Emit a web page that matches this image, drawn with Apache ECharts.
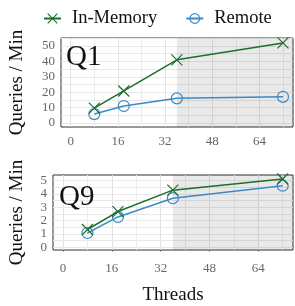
<!DOCTYPE html>
<html>
<head>
<meta charset="utf-8">
<script src="https://cdn.jsdelivr.net/npm/echarts@6/dist/echarts.min.js"></script>
<style>
  html, body { margin: 0; padding: 0; background: #fff; }
  #chart { width: 295px; height: 306px; }
</style>
</head>
<body>
<div id="chart"></div>
<script>
// threads on the x axis
const threads = [8, 18, 36, 72];
// Q1 queries per minute
const q1InMemory = [9.7, 20.8, 41, 52];
const q1Remote = [5.8, 11, 16, 17];
// Q9 queries per minute
const q9InMemory = [1.33, 2.67, 4.27, 5.1];
const q9Remote = [1.07, 2.27, 3.67, 4.6];

const xTicks = [0, 16, 32, 48, 64];
const xGrid = [0, 8, 16, 24, 32, 40, 48, 56, 64, 72];
const q1Ticks = [0, 10, 20, 30, 40, 50];
const q1Grid = [0, 5, 10, 15, 20, 25, 30, 35, 40, 45, 50, 55];
const q9Ticks = [0, 1, 2, 3, 4, 5];
const q9Grid = [0, 0.5, 1, 1.5, 2, 2.5, 3, 3.5, 4, 4.5, 5];
const shadeFrom = 36;

const green = '#1c6e2e';
const blue = '#3a8ac6';
const font = 'Liberation Serif';
const xMark = 'path://M0,0L10,10M10,0L0,10';

const chart = echarts.init(document.getElementById('chart'));

function xAxisFor(gi, name, margin) {
  return {
    gridIndex: gi, type: 'value', min: -3.3, max: 75.4,
    name: name, nameLocation: 'middle', nameGap: 36,
    nameTextStyle: { fontFamily: font, fontSize: 19, color: '#111' },
    axisLine: { show: true, lineStyle: { color: '#333' } },
    axisTick: { show: true, customValues: xTicks, length: 4, lineStyle: { color: '#333' } },
    axisLabel: { customValues: xTicks, fontFamily: font, fontSize: 13, color: '#666', margin: margin },
    splitLine: { show: false }
  };
}
function yAxisFor(gi, min, max, ticks, gap) {
  return {
    gridIndex: gi, type: 'value', min: min, max: max,
    name: 'Queries / Min', nameLocation: 'middle', nameGap: gap,
    nameTextStyle: { fontFamily: font, fontSize: 19, color: '#111' },
    axisLine: { show: true, lineStyle: { color: '#333' } },
    axisTick: { show: true, customValues: ticks, length: 4, lineStyle: { color: '#333' } },
    axisLabel: { customValues: ticks, fontFamily: font, fontSize: 13, color: '#666', margin: 6 },
    splitLine: { show: false }
  };
}
function gridLines(gi, yGrid) {
  const lines = [];
  xGrid.forEach(v => lines.push({ xAxis: v, lineStyle: { color: v % 16 === 0 ? '#e2e2e2' : '#ececec' } }));
  yGrid.forEach(v => lines.push({ yAxis: v, lineStyle: { color: '#e8e8e8' } }));
  return {
    type: 'line', xAxisIndex: gi, yAxisIndex: gi, data: [], silent: true, z: 1,
    markLine: { silent: true, z: 1, symbol: 'none', label: { show: false }, animation: false,
      lineStyle: { type: 'solid', width: 1 }, data: lines }
  };
}
function shade(gi) {
  return {
    type: 'line', xAxisIndex: gi, yAxisIndex: gi, data: [], silent: true, z: 2,
    markArea: { silent: true, z: 2, animation: false, itemStyle: { color: 'rgba(0,0,0,0.085)' },
      data: [[{ xAxis: shadeFrom }, { xAxis: 75.4 }]] }
  };
}
function pairs(ys) { return threads.map((t, i) => [t, ys[i]]); }
function inMem(gi, ys) {
  return {
    name: 'In-Memory', type: 'line', xAxisIndex: gi, yAxisIndex: gi, z: 6,
    data: pairs(ys), symbol: xMark, symbolSize: 11,
    lineStyle: { color: green, width: 1.5 },
    itemStyle: { color: green, borderColor: green, borderWidth: 1.2 }
  };
}
function remote(gi, ys) {
  return {
    name: 'Remote', type: 'line', xAxisIndex: gi, yAxisIndex: gi, z: 5,
    data: pairs(ys), symbol: 'circle', symbolSize: 11,
    lineStyle: { color: blue, width: 1.5 },
    itemStyle: { color: 'rgba(0,0,0,0)', borderColor: blue, borderWidth: 1.2 }
  };
}

chart.setOption({
  animation: false,
  backgroundColor: '#fff',
  legend: {
    top: 4, left: 38, itemGap: 28, itemWidth: 17, itemHeight: 12,
    textStyle: { fontFamily: font, fontSize: 18.5, color: '#111', padding: [0, 0, 0, 6] },
    data: [
      { name: 'In-Memory', itemStyle: { color: green, borderColor: green, borderWidth: 1.2 } },
      { name: 'Remote', itemStyle: { color: 'rgba(0,0,0,0)', borderColor: blue, borderWidth: 1.2 } }
    ]
  },
  grid: [
    { left: 59, top: 38, width: 234, height: 89, show: true, borderColor: '#333', borderWidth: 1, backgroundColor: '#fff' },
    { left: 51, top: 175, width: 242, height: 84, show: true, borderColor: '#333', borderWidth: 1, backgroundColor: '#fff' }
  ],
  xAxis: [xAxisFor(0, '', 8), xAxisFor(1, 'Threads', 12)],
  yAxis: [yAxisFor(0, -2.6, 55.2, q1Ticks, 34), yAxisFor(1, -0.2, 5.4, q9Ticks, 26)],
  graphic: [
    { type: 'text', z: 100, left: 66, top: 43, style: { text: 'Q1', fontFamily: font, fontSize: 29, fill: '#111' } },
    { type: 'text', z: 100, left: 59, top: 183, style: { text: 'Q9', fontFamily: font, fontSize: 29, fill: '#111' } }
  ],
  series: [
    gridLines(0, q1Grid), shade(0), inMem(0, q1InMemory), remote(0, q1Remote),
    gridLines(1, q9Grid), shade(1), inMem(1, q9InMemory), remote(1, q9Remote)
  ]
});
</script>
</body>
</html>
